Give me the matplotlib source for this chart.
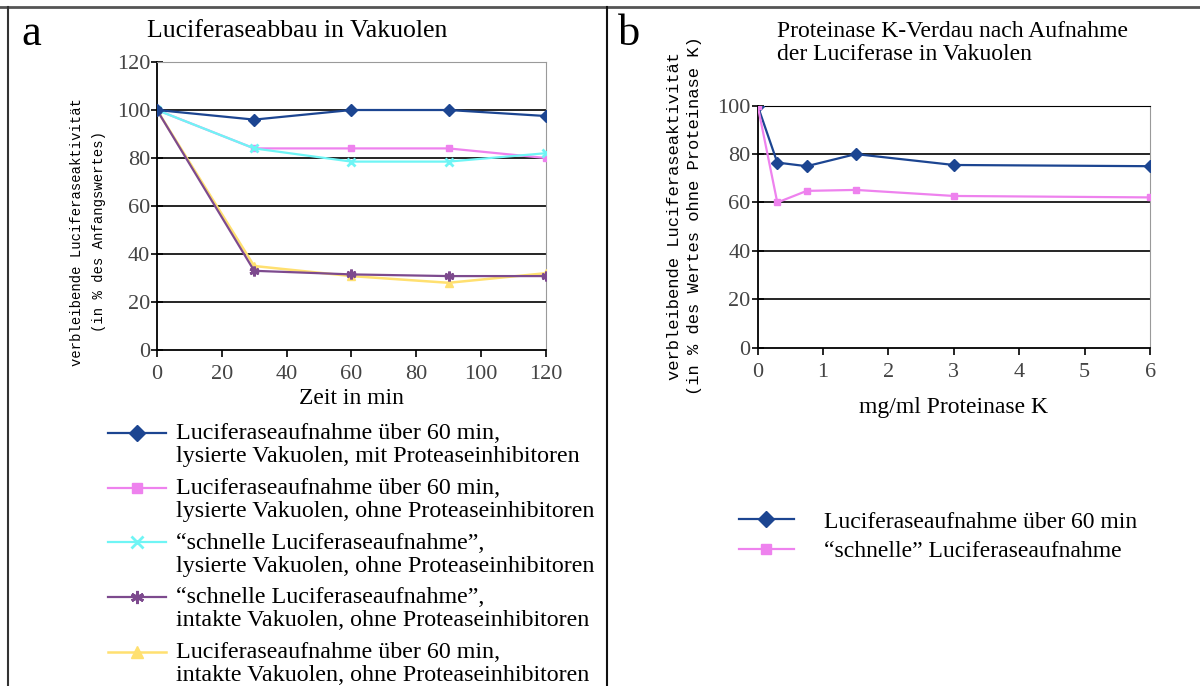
import matplotlib
matplotlib.use("Agg")
import matplotlib.pyplot as plt
from matplotlib.lines import Line2D
from matplotlib.legend_handler import HandlerLine2D

plt.rcParams['font.family'] = ['Liberation Serif', 'DejaVu Serif']

# Panel a: luciferase activity over time
zeit = [0, 30, 60, 90, 120]
lys_mit_inhib = [100, 96, 100, 100, 97.5]
lys_ohne_inhib = [100, 84, 84, 84, 80]
schnell_lys = [100, 84, 78.5, 78.5, 82]
schnell_intakt = [100, 33, 31.5, 30.8, 30.8]
intakt_ohne_inhib = [100, 35, 30.8, 28, 32]

labels_a = [
    "Luciferaseaufnahme über 60 min,\nlysierte Vakuolen, mit Proteaseinhibitoren",
    "Luciferaseaufnahme über 60 min,\nlysierte Vakuolen, ohne Proteaseinhibitoren",
    "\u201cschnelle Luciferaseaufnahme\u201d,\nlysierte Vakuolen, ohne Proteaseinhibitoren",
    "\u201cschnelle Luciferaseaufnahme\u201d,\nintakte Vakuolen, ohne Proteaseinhibitoren",
    "Luciferaseaufnahme über 60 min,\nintakte Vakuolen, ohne Proteaseinhibitoren",
]

# Panel b: proteinase K digestion
prot_k = [0, 0.3, 0.75, 1.5, 3, 6]
aufnahme_60 = [100, 76.5, 75, 80, 75.5, 75]
aufnahme_schnell = [100, 60, 64.8, 65.2, 62.7, 62.1]
labels_b = ["Luciferaseaufnahme über 60 min", "\u201cschnelle\u201d Luciferaseaufnahme"]

navy = "#1c4591"
pink = "#ee82ee"
cyan = "#6ff5f5"
purple = "#7d4a8e"
yellow = "#ffe070"


# legend handle that sits next to the first line of a two-line label
class FirstLineHandler(HandlerLine2D):
    def __init__(self, shift, **kw):
        super().__init__(**kw)
        self.shift = shift

    def create_artists(self, legend, orig_handle, xdescent, ydescent,
                       width, height, fontsize, trans):
        return super().create_artists(legend, orig_handle, xdescent,
                                      ydescent - 2 * self.shift, width, height,
                                      fontsize, trans)


fig = plt.figure(figsize=(12, 6.86), dpi=100)

def style_axes(ax, ymax, top_grey):
    ax.set_ylim(0, ymax)
    for y in range(20, 101, 20):
        ax.axhline(y, color="black", lw=1.2, zorder=1)
    ax.spines['right'].set_color("#9a9a9a")
    ax.spines['top'].set_color("#9a9a9a" if top_grey else "black")
    ax.spines['left'].set_linewidth(1.3)
    ax.spines['bottom'].set_linewidth(1.3)
    ax.tick_params(axis='x', direction='out', length=5, width=1.2,
                   labelsize=16, labelcolor="#444444", pad=6)
    ax.tick_params(axis='y', direction='inout', length=8, width=1.2,
                   labelsize=16, labelcolor="#444444", pad=1)

# ---- a ----
ax1 = fig.add_axes([0.1308, 0.4898, 0.324, 0.4198])
ax1.set_xlim(0, 120)
ax1.set_xticks(range(0, 121, 20))
ax1.set_yticks(range(0, 121, 20))
style_axes(ax1, 120, True)
ax1.plot(zeit, lys_mit_inhib, color=navy, lw=1.6, marker='D', ms=6, label=labels_a[0], zorder=5)
ax1.plot(zeit, lys_ohne_inhib, color=pink, lw=1.6, marker='s', ms=5, label=labels_a[1], zorder=3)
ax1.plot(zeit, schnell_lys, color=cyan, lw=1.6, marker='x', ms=6, mew=2, label=labels_a[2], zorder=4)
ax1.plot(zeit, intakt_ohne_inhib, color=yellow, lw=1.8, marker='^', ms=6, label=labels_a[4], zorder=3)
ax1.plot(zeit, schnell_intakt, color=purple, lw=1.6, marker=(6, 2, 0), ms=7, mew=2, label=labels_a[3], zorder=4)
ax1.set_xlabel("Zeit in min", fontsize=17, labelpad=3)
ax1.set_ylabel("verbleibende Luciferaseaktivität\n(in % des Anfangswertes)",
               family="Liberation Mono", fontsize=10, linespacing=1.75)
ax1.yaxis.set_label_coords(-0.131, 0.41)

handles, labs = ax1.get_legend_handles_labels()
order = [0, 1, 2, 4, 3]
leg1 = ax1.legend([handles[i] for i in order], [labs[i] for i in order],
                  loc='upper left', bbox_to_anchor=(0.09, 0.383), bbox_transform=fig.transFigure,
                  frameon=False, fontsize=17.3, handlelength=2.4, handletextpad=0.45,
                  labelspacing=0.45, borderaxespad=0, borderpad=0, markerscale=1.35,
                  handler_map={Line2D: FirstLineHandler(8.5)})
for t in leg1.get_texts():
    t.set_linespacing(1.12)

fig.text(0.248, 0.955, "Luciferaseabbau in Vakuolen", ha='center', va='center', fontsize=18.5)
fig.text(0.018, 0.95, "a", fontsize=32, va='center')

# ---- b ----
ax2 = fig.add_axes([0.6314, 0.4932, 0.327, 0.3527])
ax2.set_xlim(0, 6)
ax2.set_xticks(range(0, 7))
ax2.set_yticks(range(0, 101, 20))
style_axes(ax2, 100, False)
ax2.plot(prot_k, aufnahme_60, color=navy, lw=1.6, marker='D', ms=6, label=labels_b[0], zorder=4)
ax2.plot(prot_k, aufnahme_schnell, color=pink, lw=1.6, marker='s', ms=5, label=labels_b[1], zorder=5)
ax2.set_xlabel("mg/ml Proteinase K", fontsize=17, labelpad=11)
ax2.set_ylabel("verbleibende Luciferaseaktivität\n(in % des Wertes ohne Proteinase K)",
               family="Liberation Mono", fontsize=12.3, linespacing=1.45)
ax2.yaxis.set_label_coords(-0.142, 0.545)
leg2 = ax2.legend(loc='upper left', bbox_to_anchor=(0.616, 0.255), bbox_transform=fig.transFigure,
                  frameon=False, fontsize=17, handlelength=2.3, handletextpad=1.3,
                  labelspacing=0.35, borderaxespad=0, borderpad=0, markerscale=1.4)

fig.text(0.6475, 0.937, "Proteinase K-Verdau nach Aufnahme\nder Luciferase in Vakuolen",
         ha='left', va='center', fontsize=17, linespacing=1.12)
fig.text(0.515, 0.95, "b", fontsize=32, va='center')

# frame lines around and between the panels
fig.add_artist(Line2D([0, 1], [0.99, 0.99], color="#555555", lw=2, transform=fig.transFigure))
fig.add_artist(Line2D([0.0067, 0.0067], [0, 0.99], color="#333333", lw=1.5, transform=fig.transFigure))
fig.add_artist(Line2D([0.506, 0.506], [0, 0.99], color="#111111", lw=1.5, transform=fig.transFigure))

fig.savefig("out.png", dpi=100)
